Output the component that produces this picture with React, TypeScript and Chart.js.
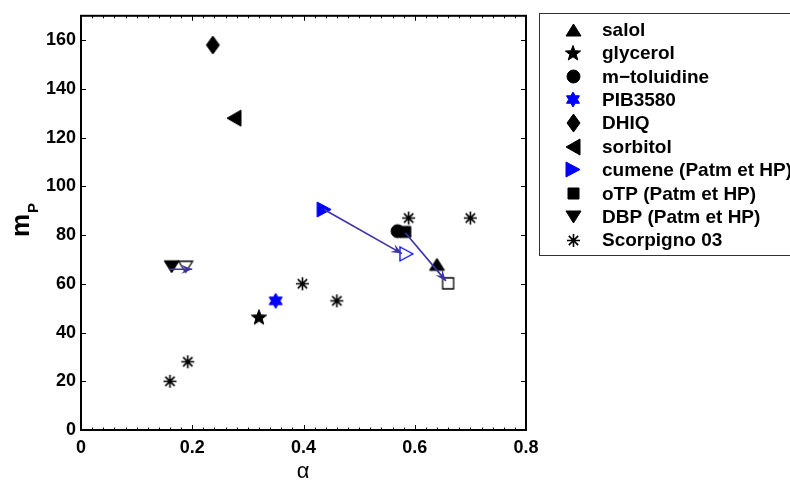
import React, { useEffect, useRef } from 'react';
import { Chart, registerables } from 'chart.js';
Chart.register(...registerables);

// ---- data ----
const xTicks = [0, 0.2, 0.4, 0.6, 0.8];
const yTicks = [0, 20, 40, 60, 80, 100, 120, 140, 160];

const salolX = [0.64];
const salolY = [68];
const glycerolX = [0.32];
const glycerolY = [46.5];
const toluidineX = [0.569];
const toluidineY = [81.6];
const pibX = [0.35];
const pibY = [53];
const dhiqX = [0.237];
const dhiqY = [158];
const sorbitolX = [0.275];
const sorbitolY = [128];
const cumeneX = [0.437, 0.585];
const cumeneY = [90.5, 72.3];
const otpX = [0.583, 0.66];
const otpY = [81.3, 60.2];
const dbpX = [0.163, 0.188];
const dbpY = [67, 67];
const scorpX = [0.16, 0.192, 0.398, 0.46, 0.589, 0.7];
const scorpY = [20, 28, 60, 53, 87, 87];

// arrows (Patm -> HP)
const arrowCumeneX = [0.437, 0.577];
const arrowCumeneY = [90.5, 72.4];
const arrowOtpX = [0.583, 0.656];
const arrowOtpY = [81, 61.2];
const arrowDbpX = [0.158, 0.2];
const arrowDbpY = [66, 66];

const legendLabels = [
  'salol',
  'glycerol',
  'm\u2212toluidine',
  'PIB3580',
  'DHIQ',
  'sorbitol',
  'cumene (Patm et HP)',
  'oTP (Patm et HP)',
  'DBP (Patm et HP)',
  'Scorpigno 03',
];

const BLUE = '#0000ff';
const ARROW = '#3a32a6';
const FONT = "'Liberation Sans', Arial, sans-serif";

function pts(xs: number[], ys: number[]) {
  return xs.map((x, i) => ({ x, y: ys[i] }));
}

function makeMarker(shape: string, fill: string | null, stroke: string | null, w: number, h: number, lw = 1) {
  const c = document.createElement('canvas');
  const W = Math.ceil(w + 4);
  const H = Math.ceil(h + 4);
  c.width = W;
  c.height = H;
  const ctx = c.getContext('2d')!;
  const cx = W / 2;
  const cy = H / 2;
  const hw = w / 2;
  const hh = h / 2;
  ctx.beginPath();
  if (shape === 'up') {
    ctx.moveTo(cx, cy - hh);
    ctx.lineTo(cx + hw, cy + hh);
    ctx.lineTo(cx - hw, cy + hh);
    ctx.closePath();
  } else if (shape === 'down') {
    ctx.moveTo(cx, cy + hh);
    ctx.lineTo(cx + hw, cy - hh);
    ctx.lineTo(cx - hw, cy - hh);
    ctx.closePath();
  } else if (shape === 'left') {
    ctx.moveTo(cx - hw, cy);
    ctx.lineTo(cx + hw, cy - hh);
    ctx.lineTo(cx + hw, cy + hh);
    ctx.closePath();
  } else if (shape === 'right') {
    ctx.moveTo(cx + hw, cy);
    ctx.lineTo(cx - hw, cy - hh);
    ctx.lineTo(cx - hw, cy + hh);
    ctx.closePath();
  } else if (shape === 'circle') {
    ctx.arc(cx, cy, hw, 0, Math.PI * 2);
  } else if (shape === 'square') {
    ctx.rect(cx - hw, cy - hh, w, h);
  } else if (shape === 'diamond') {
    ctx.moveTo(cx, cy - hh);
    ctx.lineTo(cx + hw, cy);
    ctx.lineTo(cx, cy + hh);
    ctx.lineTo(cx - hw, cy);
    ctx.closePath();
  } else if (shape === 'pent') {
    const R = hw;
    const r = R * 0.42;
    for (let i = 0; i < 10; i++) {
      const a = -Math.PI / 2 + (i * Math.PI) / 5;
      const rr = i % 2 === 0 ? R : r;
      const px = cx + rr * Math.cos(a);
      const py = cy + 1 + rr * Math.sin(a);
      if (i === 0) ctx.moveTo(px, py);
      else ctx.lineTo(px, py);
    }
    ctx.closePath();
  } else if (shape === 'hex') {
    const R = hh;
    const r = R * 0.58;
    for (let i = 0; i < 12; i++) {
      const a = -Math.PI / 2 + (i * Math.PI) / 6;
      const rr = i % 2 === 0 ? R : r;
      const px = cx + rr * Math.cos(a);
      const py = cy + rr * Math.sin(a);
      if (i === 0) ctx.moveTo(px, py);
      else ctx.lineTo(px, py);
    }
    ctx.closePath();
  } else if (shape === 'ast') {
    const R = hw;
    ctx.moveTo(cx, cy - R);
    ctx.lineTo(cx, cy + R);
    ctx.moveTo(cx - R, cy);
    ctx.lineTo(cx + R, cy);
    const d = R * 0.72;
    ctx.moveTo(cx - d, cy - d);
    ctx.lineTo(cx + d, cy + d);
    ctx.moveTo(cx - d, cy + d);
    ctx.lineTo(cx + d, cy - d);
  }
  if (fill) {
    ctx.fillStyle = fill;
    ctx.fill();
  }
  if (stroke) {
    ctx.strokeStyle = stroke;
    ctx.lineWidth = lw;
    ctx.stroke();
  }
  return c;
}

export default function App() {
  const ref = useRef<HTMLCanvasElement | null>(null);

  useEffect(() => {
    if (!ref.current) return;

    const mk = {
      salol: makeMarker('up', '#000', '#000', 15, 12),
      glycerol: makeMarker('pent', '#000', '#000', 16, 15),
      toluidine: makeMarker('circle', '#000', '#000', 13, 13),
      pib: makeMarker('hex', BLUE, BLUE, 14, 15),
      dhiq: makeMarker('diamond', '#000', '#000', 13, 18),
      sorbitol: makeMarker('left', '#000', '#000', 14, 16),
      cumene: makeMarker('right', BLUE, BLUE, 14, 15),
      cumeneH: makeMarker('right', '#fff', BLUE, 13, 14, 1.3),
      otp: makeMarker('square', '#000', '#000', 11, 11),
      otpH: makeMarker('square', '#fff', '#000', 11, 11, 1.3),
      dbp: makeMarker('down', '#000', '#000', 15, 12),
      dbpH: makeMarker('down', '#fff', '#000', 14, 11, 1.3),
      scorp: makeMarker('ast', null, '#000', 13, 13, 1.6),
    };
    const legendMarkers = [
      mk.salol, mk.glycerol, mk.toluidine, mk.pib, mk.dhiq,
      mk.sorbitol, mk.cumene, mk.otp, mk.dbp, mk.scorp,
    ];

    const markerDs = (data: any[], style: any) => ({
      data,
      pointStyle: style,
      pointRadius: 7,
      showLine: false,
      order: 2,
    });
    const arrowDs = (data: any[]) => ({
      data,
      showLine: true,
      borderColor: ARROW,
      borderWidth: 1.6,
      pointRadius: 0,
      arrow: true,
      order: 1,
    });

    const framePlugin = {
      id: 'frame',
      beforeDatasetsDraw(chart: any) {
        const { ctx, chartArea: a, scales } = chart;
        ctx.save();
        ctx.strokeStyle = '#000';
        ctx.lineWidth = 1;
        ctx.beginPath();
        // x major & minor ticks
        for (let v = 0; v <= 0.8001; v += 0.02) {
          const px = Math.round(scales.x.getPixelForValue(v)) + 0.5;
          const major = Math.abs(v / 0.2 - Math.round(v / 0.2)) < 1e-6;
          const len = major ? 5 : 2.5;
          ctx.moveTo(px, a.bottom);
          ctx.lineTo(px, a.bottom - len);
          ctx.moveTo(px, a.top);
          ctx.lineTo(px, a.top + len);
        }
        for (const v of yTicks) {
          const py = Math.round(scales.y.getPixelForValue(v)) + 0.5;
          ctx.moveTo(a.left, py);
          ctx.lineTo(a.left + 5, py);
          ctx.moveTo(a.right, py);
          ctx.lineTo(a.right - 5, py);
        }
        ctx.stroke();
        ctx.lineWidth = 2;
        ctx.strokeRect(a.left, a.top, a.right - a.left, a.bottom - a.top);
        ctx.restore();
      },
      afterDatasetsDraw(chart: any) {
        const { ctx } = chart;
        chart.data.datasets.forEach((ds: any, i: number) => {
          if (!ds.arrow) return;
          const pts = chart.getDatasetMeta(i).data;
          const p1 = pts[pts.length - 2];
          const p2 = pts[pts.length - 1];
          const ang = Math.atan2(p2.y - p1.y, p2.x - p1.x);
          const L = 11;
          const W = 4.5;
          const ux = Math.cos(ang), uy = Math.sin(ang);
          const nx = -uy, ny = ux;
          ctx.save();
          ctx.fillStyle = ARROW;
          ctx.beginPath();
          ctx.moveTo(p2.x, p2.y);
          ctx.lineTo(p2.x - L * ux + W * nx, p2.y - L * uy + W * ny);
          ctx.lineTo(p2.x - 0.6 * L * ux, p2.y - 0.6 * L * uy);
          ctx.lineTo(p2.x - L * ux - W * nx, p2.y - L * uy - W * ny);
          ctx.closePath();
          ctx.fill();
          ctx.restore();
        });
      },
      afterDraw(chart: any) {
        const { ctx } = chart;
        ctx.save();
        // legend box
        ctx.fillStyle = '#fff';
        ctx.fillRect(539.5, 13.5, 300, 242);
        ctx.strokeStyle = '#333';
        ctx.lineWidth = 1;
        ctx.strokeRect(539.5, 13.5, 300, 242);
        ctx.fillStyle = '#000';
        ctx.font = `bold 19px ${FONT}`;
        ctx.textBaseline = 'middle';
        ctx.textAlign = 'left';
        legendLabels.forEach((lab, i) => {
          const cy = 29.5 + i * 23.4;
          const m = legendMarkers[i];
          ctx.drawImage(m, Math.round(573 - m.width / 2), Math.round(cy - m.height / 2));
          ctx.fillText(lab, 602, cy + 1);
        });
        // axis titles
        ctx.fillStyle = '#000';
        ctx.textAlign = 'center';
        ctx.textBaseline = 'alphabetic';
        ctx.font = `22px ${FONT}`;
        ctx.fillText('\u03b1', 303, 478);
        ctx.translate(29, 237);
        ctx.rotate(-Math.PI / 2);
        ctx.textAlign = 'left';
        ctx.font = `bold 26px ${FONT}`;
        ctx.fillText('m', 0, 0);
        const w = ctx.measureText('m').width;
        ctx.font = `bold 15px ${FONT}`;
        ctx.fillText('P', w + 1, 9);
        ctx.restore();
      },
    };

    const chart = new Chart(ref.current, {
      type: 'scatter',
      data: {
        datasets: [
          arrowDs(pts(arrowCumeneX, arrowCumeneY)),
          arrowDs(pts(arrowOtpX, arrowOtpY)),
          arrowDs(pts(arrowDbpX, arrowDbpY)),
          markerDs(pts(salolX, salolY), mk.salol),
          markerDs(pts(glycerolX, glycerolY), mk.glycerol),
          markerDs(pts(toluidineX, toluidineY), mk.toluidine),
          markerDs(pts(pibX, pibY), mk.pib),
          markerDs(pts(dhiqX, dhiqY), mk.dhiq),
          markerDs(pts(sorbitolX, sorbitolY), mk.sorbitol),
          markerDs(pts(cumeneX, cumeneY), [mk.cumene, mk.cumeneH]),
          markerDs(pts(otpX, otpY), [mk.otp, mk.otpH]),
          markerDs(pts(dbpX, dbpY), [mk.dbp, mk.dbpH]),
          markerDs(pts(scorpX, scorpY), mk.scorp),
        ] as any,
      },
      options: {
        animation: false,
        responsive: false,
        maintainAspectRatio: false,
        events: [],
        layout: { padding: { left: 0, right: 264, top: 5, bottom: 0 } },
        plugins: {
          legend: { display: false },
          tooltip: { enabled: false },
        },
        scales: {
          x: {
            type: 'linear',
            min: 0,
            max: 0.8,
            grid: { display: false, drawTicks: false },
            border: { display: false },
            afterBuildTicks: (s: any) => {
              s.ticks = xTicks.map((v) => ({ value: v }));
            },
            afterFit: (s: any) => {
              s.height = 55;
            },
            ticks: {
              padding: 7,
              color: '#000',
              font: { family: FONT, weight: 'bold', size: 18 },
              maxRotation: 0,
              callback: (v: any) => (v === 0 ? '0' : Number(v).toFixed(1)),
            },
          },
          y: {
            type: 'linear',
            min: 0,
            max: 170,
            grid: { display: false, drawTicks: false },
            border: { display: false },
            afterBuildTicks: (s: any) => {
              s.ticks = yTicks.map((v) => ({ value: v }));
            },
            afterFit: (s: any) => {
              s.width = 81;
            },
            ticks: {
              padding: 5,
              color: '#000',
              font: { family: FONT, weight: 'bold', size: 18 },
              callback: (v: any) => String(v),
            },
          },
        },
      } as any,
      plugins: [framePlugin],
    });
    return () => chart.destroy();
  }, []);

  return (
    <div style={{ position: 'absolute', left: 0, top: 0, width: 790, height: 485, background: '#fff' }}>
      <canvas ref={ref} width={790} height={485} style={{ display: 'block' }} />
    </div>
  );
}
